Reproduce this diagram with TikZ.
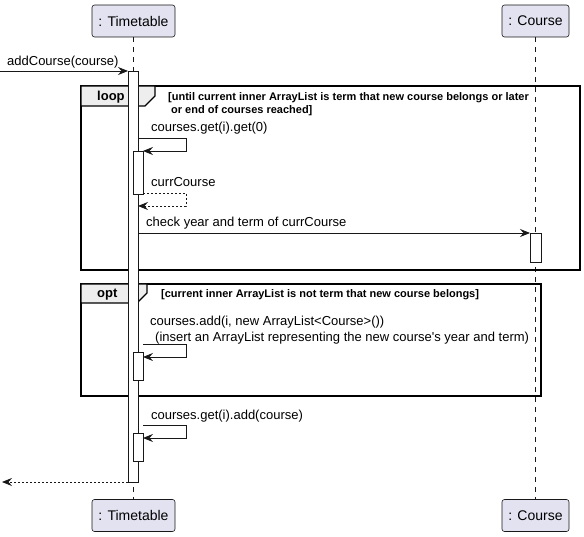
\documentclass[tikz,border=0pt]{standalone}
\usepackage{fontspec}
\setmainfont{Liberation Sans}
\usetikzlibrary{arrows.meta}
\definecolor{pbox}{HTML}{E2E2F0}
\definecolor{ln}{HTML}{181818}
\definecolor{tabc}{HTML}{EEEEEE}
\begin{document}
\begin{tikzpicture}[x=1pt,y=-1pt,
  part/.style={draw=ln, fill=pbox, rounded corners=2.5pt, line width=0.6pt, inner sep=0pt,
     minimum height=32pt, font=\fontsize{14}{16}\selectfont},
  life/.style={draw=ln, line width=0.5pt, dash pattern=on 5pt off 5pt},
  act/.style={draw=ln, fill=white, line width=0.8pt, inner sep=0pt, anchor=north west},
  frm/.style={draw=black, line width=1.5pt},
  tabbox/.style={draw=black, fill=tabc, line width=1.2pt},
  msg/.style={draw=ln, line width=0.8pt, -{Stealth[length=10pt,width=8pt,inset=3.5pt]}},
  ret/.style={msg, dash pattern=on 2pt off 2pt},
  lbl/.style={anchor=base west, inner sep=0pt, font=\fontsize{13}{15}\selectfont},
  cond/.style={anchor=base west, inner sep=0pt, font=\fontsize{11}{13}\selectfont\bfseries},
  tabl/.style={anchor=base west, inner sep=0pt, font=\fontsize{13}{15}\selectfont\bfseries}]
\useasboundingbox (0,0) rectangle (584,537);
% participants
\node[part, minimum width=83pt] (tt) at (133.5,21) {: Timetable};
\node[part, minimum width=83pt] (ttb) at (133.5,515.5) {: Timetable};
\node[part, minimum width=67pt] (co) at (535.5,21) {: Course};
\node[part, minimum width=67pt] (cob) at (535.5,515.5) {: Course};
% lifelines
\draw[life] (tt.south) -- (ttb.north);
\draw[life] (co.south) -- (cob.north);
% loop frame
\draw[frm] (81,86) rectangle (580,270);
\draw[tabbox] (81,86) -- (155,86) -- (155,96) -- (145,106) -- (81,106) -- cycle;
\node[tabl] (looplbl) at (97,101) {loop};
\node[cond] (loopc1) at (168,101) {[until current inner ArrayList is term that new course belongs or later};
\node[cond] (loopc2) at (171,114) {or end of courses reached]};
% opt frame
\draw[frm] (81,284) rectangle (541,396);
\draw[tabbox] (81,284) -- (147,284) -- (147,293) -- (137,303) -- (81,303) -- cycle;
\node[tabl] (optlbl) at (97,298) {opt};
\node[cond] (optc) at (161,298) {[current inner ArrayList is not term that new course belongs]};
% activations
\node[act, minimum width=10pt, minimum height=411pt] (a0) at (128,71) {};
\node[act, minimum width=10pt, minimum height=43pt] (a1) at (133,151) {};
\node[act, minimum width=11pt, minimum height=29pt] (c1) at (530,233) {};
\node[act, minimum width=10pt, minimum height=28pt] (a2) at (133,352) {};
\node[act, minimum width=10pt, minimum height=28pt] (a3) at (133,433) {};
% coordinates
\coordinate (in) at (0,71);
\coordinate (out) at (2,482);
\coordinate (s1a) at (138,138); \coordinate (s1b) at (186,138); \coordinate (s1c) at (186,151); \coordinate (s1d) at (143,151);
\coordinate (r1a) at (143,193); \coordinate (r1b) at (186,193); \coordinate (r1c) at (186,206); \coordinate (r1d) at (138,206);
\coordinate (m1a) at (138,233); \coordinate (m1b) at (530,233);
\coordinate (s2a) at (143,344); \coordinate (s2b) at (186,344); \coordinate (s2c) at (186,357); \coordinate (s2d) at (143,357);
\coordinate (s3a) at (143,425); \coordinate (s3b) at (186,425); \coordinate (s3c) at (186,438); \coordinate (s3d) at (143,438);
\coordinate (rtA) at (128,482);
% messages
\draw[msg] (in) -- (a0.north west);
\node[lbl] (l0) at (7,66) {addCourse(course)};
\draw[msg] (s1a) -- (s1b) -- (s1c) -- (s1d);
\node[lbl] (l1) at (151,132) {courses.get(i).get(0)};
\draw[ret] (r1a) -- (r1b) -- (r1c) -- (r1d);
\node[lbl] (l2) at (151,187) {currCourse};
\draw[msg] (m1a) -- (m1b);
\node[lbl] (l3) at (146,227) {check year and term of currCourse};
\draw[msg] (s2a) -- (s2b) -- (s2c) -- (s2d);
\node[lbl] (l4) at (150,326) {courses.add(i, new ArrayList<Course>())};
\node[lbl] (l5) at (155,342) {(insert an ArrayList representing the new course\textquotesingle s year and term)};
\draw[msg] (s3a) -- (s3b) -- (s3c) -- (s3d);
\node[lbl] (l6) at (151,419) {courses.get(i).add(course)};
\draw[ret] (rtA) -- (out);
\end{tikzpicture}
\end{document}
